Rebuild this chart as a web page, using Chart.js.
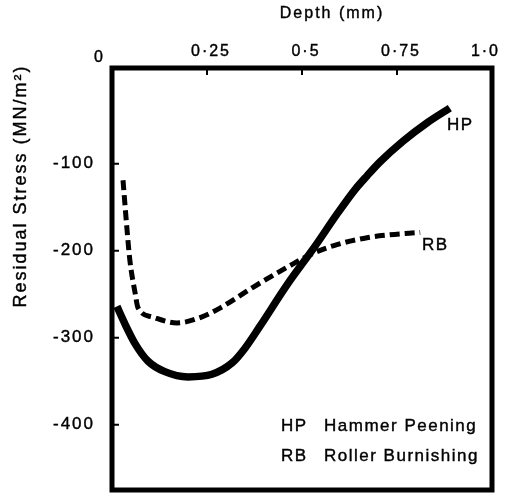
<!DOCTYPE html>
<html>
<head>
<meta charset="utf-8">
<script src="https://cdn.jsdelivr.net/npm/chart.js@4"></script>
<style>
  body { margin: 0; background: #fff; }
  canvas { display: block; }
</style>
</head>
<body>
<canvas id="grafica" width="508" height="496"></canvas>
<script>
// Hammer Peening (HP) - línea continua
const depthHP  = [0.013, 0.034, 0.061, 0.095, 0.139, 0.20, 0.263, 0.316, 0.350, 0.389, 0.461, 0.534, 0.592, 0.639, 0.671, 0.705, 0.766, 0.829, 0.889];
const stressHP = [-264, -284, -307, -327, -339, -345, -342, -329, -312, -287, -239, -195, -158, -130, -114, -98, -74, -53, -36];

// Roller Burnishing (RB) - línea discontinua
const depthRB  = [0.029, 0.039, 0.047, 0.061, 0.068, 0.105, 0.171, 0.237, 0.284, 0.371, 0.461, 0.529, 0.592, 0.671, 0.724, 0.811];
const stressRB = [-119, -173, -211, -249, -265, -276, -283, -276, -266, -242, -219, -203, -193, -185, -182, -179];

const xTicks = [0, 0.25, 0.5, 0.75, 1.0];
const yTicks = [-100, -200, -300, -400];

const fuente = '"Liberation Sans", Arial, sans-serif';

function fmt(v) {
    if (v === 0) return '0';
    if (v === 1) return '1·0';
    return String(v).replace('.', '·');
}

// texto un poco más grueso, como en el original escaneado
function texto(ctx, s, x, y) {
    ctx.fillText(s, x, y);
    ctx.strokeText(s, x, y);
}

const marcoPlugin = {
    id: 'marco',
    afterDatasetsDraw(chart) {
        const { ctx, chartArea: a, scales: { x, y } } = chart;
        ctx.save();
        ctx.strokeStyle = '#000';
        ctx.fillStyle = '#000';

        // marco
        ctx.lineWidth = 5;
        ctx.strokeRect(a.left, a.top, a.right - a.left, a.bottom - a.top);

        // marcas hacia dentro
        ctx.lineWidth = 2;
        ctx.beginPath();
        xTicks.forEach(v => {
            if (v === 0 || v === 1) return;
            const px = x.getPixelForValue(v);
            ctx.moveTo(px, a.top);
            ctx.lineTo(px, a.top + 7);
        });
        yTicks.forEach(v => {
            const py = y.getPixelForValue(v);
            ctx.moveTo(a.left, py);
            ctx.lineTo(a.left + 7, py);
        });
        ctx.stroke();

        ctx.lineWidth = 0.4;
        ctx.letterSpacing = '2px';
        ctx.textBaseline = 'middle';

        // etiquetas eje X (arriba)
        ctx.font = '16px ' + fuente;
        xTicks.forEach(v => {
            const px = x.getPixelForValue(v);
            if (v === 0) {
                ctx.textAlign = 'right';
                texto(ctx, fmt(v), px - 7, 58);
            } else if (v === 1) {
                ctx.textAlign = 'right';
                texto(ctx, fmt(v), px + 8, 52);
            } else {
                ctx.textAlign = 'center';
                texto(ctx, fmt(v), px + 4, 52);
            }
        });

        // etiquetas eje Y
        ctx.font = '17px ' + fuente;
        ctx.textAlign = 'right';
        yTicks.forEach(v => {
            texto(ctx, String(v), 95, y.getPixelForValue(v));
        });

        // títulos
        ctx.font = '16px ' + fuente;
        ctx.textAlign = 'center';
        texto(ctx, 'Depth (mm)', 332, 14);

        ctx.save();
        ctx.translate(21, 186);
        ctx.rotate(-Math.PI / 2);
        ctx.font = '18px ' + fuente;
        texto(ctx, 'Residual Stress (MN/m²)', 0, 0);
        ctx.restore();

        // rótulos de curvas
        ctx.font = '17px ' + fuente;
        ctx.letterSpacing = '1.5px';
        ctx.textAlign = 'left';
        texto(ctx, 'HP', 447, 125);
        texto(ctx, 'RB', 422, 245);

        // leyenda
        texto(ctx, 'HP', 281, 426);
        texto(ctx, 'Hammer Peening', 324, 426);
        texto(ctx, 'RB', 281, 456);
        texto(ctx, 'Roller Burnishing', 324, 456);

        ctx.restore();
    }
};

const ctx = document.getElementById('grafica').getContext('2d');
new Chart(ctx, {
    type: 'line',
    data: {
        datasets: [{
            label: 'HP',
            data: depthHP.map((d, i) => ({ x: d, y: stressHP[i] })),
            borderColor: '#000',
            borderWidth: 7.5,
            pointRadius: 0,
            cubicInterpolationMode: 'monotone',
            fill: false
        }, {
            label: 'RB',
            data: depthRB.map((d, i) => ({ x: d, y: stressRB[i] })),
            borderColor: '#000',
            borderWidth: 5,
            borderDash: [10, 5],
            pointRadius: 0,
            cubicInterpolationMode: 'monotone',
            fill: false
        }]
    },
    options: {
        responsive: false,
        animation: false,
        layout: { padding: { left: 112, top: 68, right: 16, bottom: 6 } },
        plugins: {
            legend: { display: false },
            tooltip: { enabled: false }
        },
        scales: {
            x: { type: 'linear', min: 0, max: 1, display: false },
            y: { min: -475, max: 10, display: false }
        }
    },
    plugins: [marcoPlugin]
});
</script>
</body>
</html>
